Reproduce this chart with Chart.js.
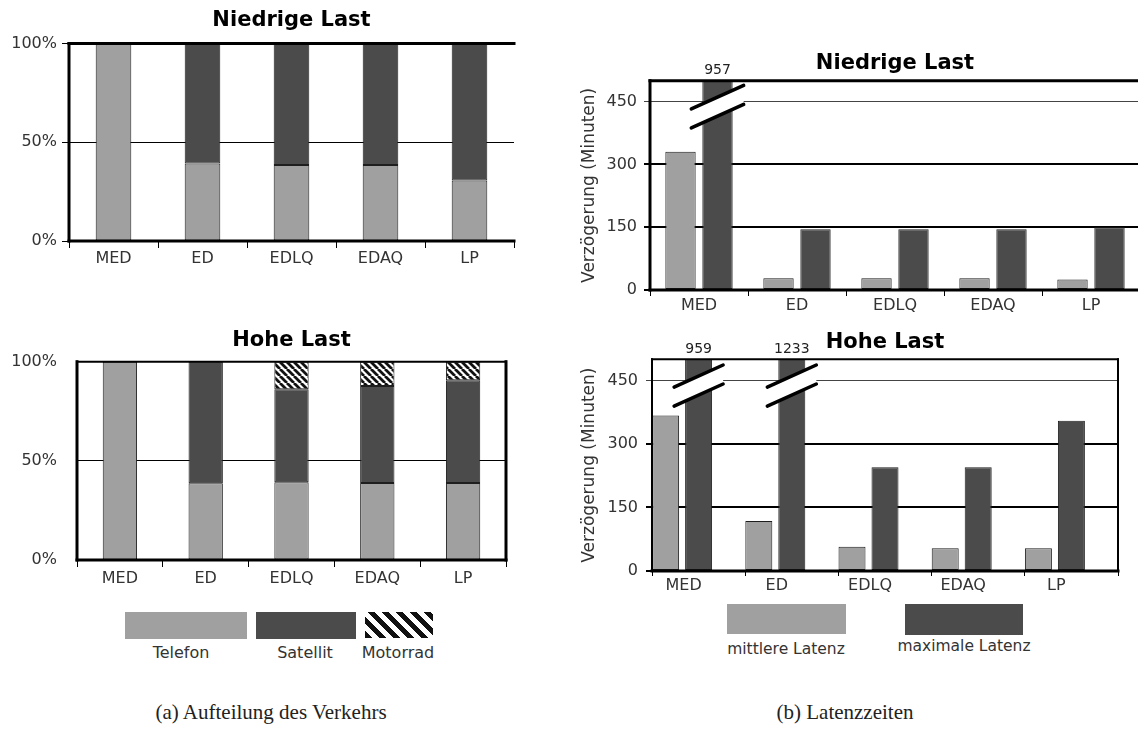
<!DOCTYPE html>
<html>
<head>
<meta charset="utf-8">
<title>Aufteilung des Verkehrs / Latenzzeiten</title>
<script src="https://cdn.jsdelivr.net/npm/chart.js@4.4.1/dist/chart.umd.min.js"></script>
<style>
    html, body { margin: 0; padding: 0; background: #fff; overflow: hidden; }
    body { width: 1138px; height: 731px; position: relative; font-family: 'DejaVu Sans', sans-serif; color: #333; }
    canvas { position: absolute; }
    .txt { position: absolute; transform: translate(-50%, -50%); white-space: nowrap; line-height: 1; }
    .sw { position: absolute; }
    .leg { font-size: 16px; color: #333; }
    .cap { font-family: 'Liberation Serif', serif; font-size: 21px; color: #222; }
</style>
</head>
<body>
<canvas id="shareLow" width="530" height="271" style="left:0;top:0"></canvas>
<canvas id="shareHigh" width="510" height="270" style="left:0;top:320px"></canvas>
<canvas id="latLow" width="565" height="290" style="left:575px;top:30px"></canvas>
<canvas id="latHigh" width="548" height="281" style="left:575px;top:320px"></canvas>

<!-- legend (a) -->
<div class="sw" style="left:125px;top:612px;width:122px;height:27px;background:#a0a0a0"></div>
<div class="sw" style="left:256px;top:612px;width:100px;height:27px;background:#4b4b4b"></div>
<div class="sw" style="left:365px;top:612px;width:68px;height:26px;background:repeating-linear-gradient(45deg,#111 0 5px,#fff 5px 10px)"></div>
<div class="txt leg" style="left:181px;top:653px">Telefon</div>
<div class="txt leg" style="left:305px;top:653px">Satellit</div>
<div class="txt leg" style="left:398px;top:653px">Motorrad</div>

<!-- legend (b) -->
<div class="sw" style="left:727px;top:604px;width:119px;height:30px;background:#a0a0a0"></div>
<div class="sw" style="left:905px;top:604px;width:118px;height:31px;background:#4b4b4b"></div>
<div class="txt leg" style="left:786px;top:650px;font-size:15.5px">mittlere Latenz</div>
<div class="txt leg" style="left:964px;top:647px;font-size:15.5px">maximale Latenz</div>

<div class="txt cap" style="left:271px;top:712px">(a) Aufteilung des Verkehrs</div>
<div class="txt cap" style="left:845px;top:712px">(b) Latenzzeiten</div>

<script>
// Kategorien
const categories = ['MED', 'ED', 'EDLQ', 'EDAQ', 'LP'];

// Aufteilung des Verkehrs, Anteil in %
const telefonLow = [100, 39.2, 38.5, 38.5, 30.6];
const satellitLow = [0, 60.8, 61.5, 61.5, 69.4];
const motorradLow = [0, 0, 0, 0, 0];
const telefonHigh = [100, 38.7, 39.2, 38.8, 38.8];
const satellitHigh = [0, 61.3, 46.9, 48.9, 51.9];
const motorradHigh = [0, 0, 13.9, 12.3, 9.3];
const shareTicks = [0, 50, 100];

// Latenzzeiten in Minuten
const mittlereLow = [330, 28, 28, 28, 25];
const maximaleLow = [957, 145, 145, 145, 150];
const mittlereHigh = [367, 118, 57, 54, 54];
const maximaleHigh = [959, 1233, 245, 245, 355];
const latencyTicks = [0, 150, 300, 450];
const latencyMax = 500;

const LIGHT = '#a0a0a0';
const DARK = '#4b4b4b';
const EDGE = '#1e1e1e';

Chart.defaults.font.family = "'DejaVu Sans', sans-serif";
Chart.defaults.color = '#333';

/**
 * Diagonal "\\\" stripes used for the Motorrad segments.
 * @param {CanvasRenderingContext2D} target
 */
function makeHatch(target, period, width) {
    const tile = document.createElement('canvas');
    tile.width = tile.height = period;
    const g = tile.getContext('2d');
    g.fillStyle = '#fff';
    g.fillRect(0, 0, period, period);
    g.strokeStyle = '#111';
    g.lineWidth = width;
    g.beginPath();
    for (let k = -1; k <= 1; k++) {
        g.moveTo(k * period, 0);
        g.lineTo(k * period + period, period);
    }
    g.stroke();
    return target.createPattern(tile, 'repeat');
}

// black frame lines round the plot area, width per side (0 = none)
const framePlugin = {
    id: 'frame',
    afterDatasetsDraw(chart, args, opts) {
        const { ctx, chartArea: a } = chart;
        const side = (w, x0, y0, x1, y1) => {
            if (!w) return;
            ctx.lineWidth = w;
            ctx.beginPath();
            ctx.moveTo(x0, y0);
            ctx.lineTo(x1, y1);
            ctx.stroke();
        };
        ctx.save();
        ctx.strokeStyle = '#000';
        ctx.lineCap = 'square';
        side(opts.top, a.left, a.top, a.right, a.top);
        side(opts.bottom, a.left, a.bottom, a.right, a.bottom);
        side(opts.left, a.left, a.top, a.left, a.bottom);
        side(opts.right, a.right, a.top, a.right, a.bottom);
        ctx.restore();
    },
};

// broken bars: values above the axis max get a break mark and their value on top
const breakPlugin = {
    id: 'axisBreak',
    afterDatasetsDraw(chart, args, opts) {
        const { ctx, chartArea: a } = chart;
        const y = chart.scales.y;
        chart.data.datasets.forEach((ds, i) => {
            const meta = chart.getDatasetMeta(i);
            ds.data.forEach((v, j) => {
                if (v == null || v <= y.max) return;
                const bar = meta.data[j];
                const half = bar.width / 2 + opts.overhang;
                const yc = y.getPixelForValue(opts.at);
                const yy = (dx, off) => yc + off - opts.slope * dx;
                ctx.save();
                ctx.fillStyle = '#fff';
                ctx.beginPath();
                ctx.moveTo(bar.x - half, yy(-half, -opts.gap));
                ctx.lineTo(bar.x + half, yy(half, -opts.gap));
                ctx.lineTo(bar.x + half, yy(half, opts.gap));
                ctx.lineTo(bar.x - half, yy(-half, opts.gap));
                ctx.closePath();
                ctx.fill();
                ctx.strokeStyle = '#000';
                ctx.lineWidth = 3.5;
                ctx.lineCap = 'round';
                [-opts.gap, opts.gap].forEach((off) => {
                    ctx.beginPath();
                    ctx.moveTo(bar.x - half, yy(-half, off));
                    ctx.lineTo(bar.x + half, yy(half, off));
                    ctx.stroke();
                });
                ctx.fillStyle = '#222';
                ctx.font = "14px 'DejaVu Sans'";
                ctx.textAlign = 'center';
                ctx.textBaseline = 'middle';
                ctx.fillText(String(v), bar.x, a.top - opts.labelOffset);
                ctx.restore();
            });
        });
    },
};

/**
 * 100% stacked bars (Telefon / Satellit / Motorrad).
 */
function shareConfig(telefon, satellit, motorrad, hatch, o) {
    return {
        type: 'bar',
        data: {
            labels: categories,
            datasets: [
                { label: 'Telefon', data: telefon, backgroundColor: LIGHT },
                { label: 'Satellit', data: satellit, backgroundColor: DARK },
                { label: 'Motorrad', data: motorrad, backgroundColor: hatch },
            ],
        },
        options: {
            responsive: false,
            animation: false,
            layout: { padding: { top: 0, right: o.padRight, bottom: 0, left: 0 } },
            datasets: {
                bar: {
                    barPercentage: 0.4,
                    categoryPercentage: 1,
                    borderColor: EDGE,
                    borderWidth: 1,
                    borderSkipped: false,
                },
            },
            plugins: {
                legend: { display: false },
                tooltip: { enabled: false },
                title: {
                    display: true,
                    text: o.title,
                    fullSize: false,
                    color: '#000',
                    font: { size: 21, weight: 'bold' },
                    padding: { top: o.titleTop, bottom: o.titleBottom },
                },
                frame: o.frame,
            },
            scales: {
                x: {
                    stacked: true,
                    afterFit: (s) => { s.height = 30; },
                    border: { display: false },
                    grid: { offset: true, drawOnChartArea: false, tickLength: o.xTick, color: '#000' },
                    ticks: { color: '#333', font: { size: 16 }, padding: o.xPad, maxRotation: 0 },
                },
                y: {
                    stacked: true,
                    min: 0,
                    max: 100,
                    afterFit: (s) => { s.width = o.yWidth; },
                    afterBuildTicks: (s) => { s.ticks = shareTicks.map((value) => ({ value })); },
                    border: { display: false },
                    grid: { color: '#000', lineWidth: 1, drawTicks: o.yTick > 0, tickLength: o.yTick },
                    ticks: { color: '#333', font: { size: 16 }, padding: o.yPad, callback: (v) => `${v}%` },
                },
            },
        },
        plugins: [framePlugin],
    };
}

/**
 * Grouped latency bars (mittlere / maximale Latenz) with a broken y-axis.
 */
function latencyConfig(mittlere, maximale, o) {
    const datasets = [
        { label: 'mittlere Latenz', data: mittlere, backgroundColor: LIGHT },
        { label: 'maximale Latenz', data: maximale, backgroundColor: DARK },
    ];
    // empty slot so the pair sits left in its category
    if (o.spacer) datasets.push({ label: '', data: categories.map(() => null) });
    const top = latencyTicks[latencyTicks.length - 1];
    return {
        type: 'bar',
        data: { labels: categories, datasets },
        options: {
            responsive: false,
            animation: false,
            layout: { padding: { top: 0, right: o.padRight, bottom: 0, left: 0 } },
            datasets: {
                bar: {
                    barPercentage: o.barPct,
                    categoryPercentage: o.catPct,
                    borderColor: EDGE,
                    borderWidth: 1,
                    borderSkipped: false,
                    clip: { top: 0, left: false, right: false, bottom: false },
                },
            },
            plugins: {
                legend: { display: false },
                tooltip: { enabled: false },
                title: {
                    display: true,
                    text: o.title,
                    fullSize: false,
                    color: '#000',
                    font: { size: 21, weight: 'bold' },
                    padding: { top: o.titleTop, bottom: o.titleBottom },
                },
                frame: o.frame,
                axisBreak: { at: 438, gap: 9.5, slope: 0.45, overhang: 11, labelOffset: 10 },
            },
            scales: {
                x: {
                    afterFit: (s) => { s.height = 30; },
                    border: { display: false },
                    grid: { offset: true, drawOnChartArea: false, tickLength: o.xTick, color: '#000' },
                    ticks: { color: '#333', font: { size: 16 }, padding: 0, maxRotation: 0, labelOffset: o.labelShift },
                },
                y: {
                    min: 0,
                    max: latencyMax,
                    afterFit: (s) => { s.width = o.yWidth; },
                    afterBuildTicks: (s) => { s.ticks = latencyTicks.map((value) => ({ value })); },
                    border: { display: false },
                    grid: {
                        color: (c) => (c.tick && c.tick.value === top ? '#444' : '#000'),
                        lineWidth: (c) => (c.tick && c.tick.value === top ? 1 : 2),
                        tickLength: 6,
                    },
                    ticks: { color: '#333', font: { size: 16 }, padding: o.yPad },
                    title: {
                        display: true,
                        text: 'Verzögerung (Minuten)',
                        color: '#333',
                        font: { size: 17 },
                        padding: { top: 4, bottom: 0 },
                    },
                },
            },
        },
        plugins: [framePlugin, breakPlugin],
    };
}

const lowCanvas = document.getElementById('shareLow');
const highCanvas = document.getElementById('shareHigh');

new Chart(lowCanvas, shareConfig(telefonLow, satellitLow, motorradLow,
    makeHatch(lowCanvas.getContext('2d'), 7, 2.8), {
        title: 'Niedrige Last', titleTop: 8, titleBottom: 10.3, padRight: 16,
        yWidth: 69, yTick: 7, yPad: 5, xTick: 7, xPad: 1,
        frame: { top: 3, bottom: 3, left: 3, right: 0 },
    }));

new Chart(highCanvas, shareConfig(telefonHigh, satellitHigh, motorradHigh,
    makeHatch(highCanvas.getContext('2d'), 7, 2.8), {
        title: 'Hohe Last', titleTop: 8.1, titleBottom: 8.4, padRight: 4,
        yWidth: 77, yTick: 0, yPad: 20, xTick: 7, xPad: 2,
        frame: { top: 2, bottom: 3, left: 3, right: 3 },
    }));

new Chart(document.getElementById('latLow'), latencyConfig(mittlereLow, maximaleLow, {
    title: 'Niedrige Last', titleTop: 20.7, titleBottom: 4.8, padRight: 0,
    yWidth: 75, yPad: 7, xTick: 6, labelShift: 0,
    barPct: 0.82, catPct: 0.755, spacer: false,
    frame: { top: 3, bottom: 3, left: 3, right: 0 },
}));

new Chart(document.getElementById('latHigh'), latencyConfig(mittlereHigh, maximaleHigh, {
    title: 'Hohe Last', titleTop: 10.1, titleBottom: 4, padRight: 5,
    yWidth: 77, yPad: 8, xTick: 5, labelShift: -15,
    barPct: 0.818, catPct: 1.062, spacer: true,
    frame: { top: 2, bottom: 3, left: 2, right: 2 },
}));
</script>
</body>
</html>
